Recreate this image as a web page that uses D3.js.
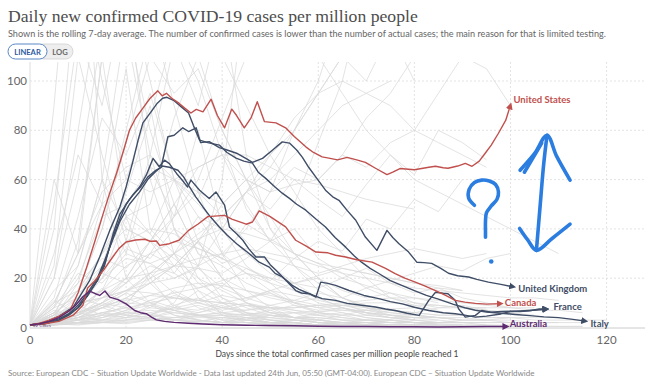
<!DOCTYPE html>
<html><head><meta charset="utf-8">
<script src="https://cdn.jsdelivr.net/npm/d3@7"></script>
<style>body{margin:0;background:#fff;} svg{display:block;font-family:Lato,"Noto Sans",sans-serif;}</style>
</head><body><svg id="c" width="650" height="383"></svg>
<script>
// ---------- data ----------
const xTicks = [0, 20, 40, 60, 80, 100, 120];
const yTicks = [0, 20, 40, 60, 80, 100];
const titleText = "Daily new confirmed COVID-19 cases per million people";
const subtitleText = "Shown is the rolling 7-day average. The number of confirmed cases is lower than the number of actual cases; the main reason for that is limited testing.";
const sourceText = "Source: European CDC – Situation Update Worldwide - Data last updated 24th Jun, 05:50 (GMT-04:00). European CDC – Situation Update Worldwide";
const xAxisTitle = "Days since the total confirmed cases per million people reached 1";
const buttonLabels = ["LINEAR", "LOG"];

const usData = [[0,1],[2,1.8],[4,3],[6,4.5],[8.3,6.9],[10,14],[11.8,24.5],[13.5,35],[15.2,46],[16.5,54],[18,62.5],[19.5,72],[20.7,80],[22,85],[23.5,89],[25,93],[26.6,96],[27.5,94],[28.4,95],[29.5,93],[31,91],[32.2,89],[33.5,87],[34.6,88.5],[36,87.5],[37.7,92.6],[39,86],[40.5,81],[42,88.6],[43,86],[44.6,81],[46,85],[47.3,91.6],[48.8,83.5],[51.2,83],[53.2,81],[55,77.5],[57.4,73.3],[59,71],[60.8,69.2],[62.2,68.7],[64,68],[66,69],[68,68],[69.8,67],[72,64.5],[74.3,62],[75.5,63],[77,64.5],[80,64],[83,65],[84.4,65.4],[86,64.8],[87,64.6],[89,65.5],[90.6,66.6],[92,65.4],[93.5,67.5],[94.7,70.6],[96,74],[97.5,78.8],[99,84],[100,90.2]];
const canadaData = [[0,1],[3,1.5],[6,2.5],[9,5],[11,9],[12,16],[13.5,19],[15.2,23],[17,28],[18.5,32],[20,34.7],[22,35.5],[23.9,35.8],[25,35],[26.3,35.1],[27,33.3],[29,34],[31,35.4],[33,39.4],[35,42],[37,45],[40.5,45.5],[42,44],[45,41.9],[46.3,42.8],[47.7,47.3],[50,45],[53.2,40.8],[55.3,35.4],[57.5,33],[59.5,30.6],[62,30.3],[63.6,29.3],[65.7,28.6],[68,27.5],[71.2,26.5],[74,24],[76,21.9],[78,20],[80.2,18.4],[82,17],[84.4,15],[86.5,13],[88.5,11],[90.5,10.3],[92.7,9.8],[95,9.5],[98,9.7]];
const ukData = [[0,1],[3,1.5],[6,3],[8,5],[10,8],[12,13],[14,19],[15.5,26],[17.3,37],[18.7,44],[20,50],[21.5,54],[23,57],[24.5,61],[26,63.5],[27.3,65],[28.7,77.4],[30,78],[31.8,81],[33,79.5],[34.6,81],[35.5,75],[37.3,75.4],[39.4,73],[41,72],[43,70.7],[45,68.5],[46.3,67],[48.4,68.6],[50.5,72],[52.5,75.3],[54,74.8],[55.5,72],[56.7,69],[58,65],[59.5,61],[61.5,55.7],[63,53],[64.3,51.6],[66,47.5],[67.8,43.5],[69.8,36.7],[72.2,31.3],[74.3,39.4],[75.5,36.5],[76.8,34],[78.8,30.6],[80.5,26.5],[82,26.3],[83.6,26],[85.5,24],[87.1,22],[89,21],[91.3,20.5],[93,19.5],[95.4,18.4],[98,17.5],[100.6,16.5]];
const italyData = [[0,1],[3,2],[6,4.5],[9,8.3],[10.5,13],[12.4,19],[14.5,28.6],[16.6,39.4],[18.7,48.9],[20,57],[21.5,68],[22.5,76],[23.5,83],[25,87],[26.5,91],[27.6,93],[28.5,93.4],[30,92],[31.5,89.5],[33,87],[34,82],[35.3,76],[37,75],[39.4,74],[41,71],[42.9,68.7],[44.5,67.5],[46.3,66.7],[47.5,63],[49,60.6],[51,57],[52.5,54.5],[54,52.4],[55.5,50],[57.4,47.6],[59.5,44],[61.5,40.8],[63.5,36.5],[65.7,32.6],[67.5,29],[69,26.5],[70.8,24],[72.6,21.9],[75,19],[77.5,17],[80,15],[82.5,13],[85,11.5],[88,9.5],[90.5,8],[92.7,7],[95,6.3],[98,5.8],[101,5.3],[104,4.8],[107,4.3],[110,4],[113,3.3],[115.6,2.6]];
const germanyData = [[0,1],[3,1.5],[6,3],[8,5],[10,8],[12,13],[14,19],[15.5,25],[17.3,38],[18.7,46],[20.7,52],[22.8,57],[24.2,61.8],[25.6,68.6],[26.9,65.2],[28,67.9],[29,66.5],[30.5,62.5],[32,59],[32.8,57],[33.5,59.8],[35.3,55.7],[37.3,52.3],[38.7,55],[40.5,49.6],[41.5,40.8],[43,38],[44.3,35.4],[45.5,32],[47,28.6],[48.8,28.6],[50,25.5],[51.2,23.2],[53.3,19.1],[55.3,15],[56.5,14],[58.1,13.7],[59.5,12.3],[60.5,18.4],[62,17.9],[63.6,17.1],[66.4,15],[69.5,13],[72.6,11.7],[75,10.5],[77.5,9.6],[80,8.2],[83,6.9],[86,6],[88.5,5.6],[90.5,5],[92.7,4.2],[95,4.6],[98,5.5],[100,6.5],[103,6.8],[105.5,7.1],[107.5,7.4]];
const franceData = [[0,1],[3,1.8],[6,3.5],[8,5.5],[10,9],[12,14],[14,20],[15.5,27],[17.3,36],[18.7,43],[20.7,50],[22.8,55],[24.5,60],[26,63],[27.5,65.5],[29,65],[30.8,63.8],[32,61],[33.2,57],[34.5,53],[36,48.9],[37.5,45],[39.4,40.8],[41,37.5],[43,34],[44.3,32],[45.6,30],[47.7,26.5],[49.8,24.5],[51,22],[52.6,20.4],[54.6,17.1],[56,15.5],[57.4,14.3],[59,13],[60.8,11.7],[63.6,11],[66,9.8],[69,9],[71.9,8.3],[74,7.5],[76,6.9],[78.5,5.8],[81,4.9],[83,11],[84.4,14.3],[86,13.9],[87,13.7],[88.5,11],[89.2,7.6],[90.6,4.2],[92.7,4.9],[94,6.9],[96,6.2],[98,6.5],[100,6.6],[102,6.5],[104,6.8],[106,7.5],[107.5,7.5]];
const australiaData = [[0,1],[2,1.5],[4,2.5],[6,4],[8,6.5],[9.5,9],[11,12.5],[12.4,14.8],[13.5,13.8],[14.5,13],[15.6,14.8],[16.6,12.3],[18.3,11.3],[20,9.6],[21.8,6.9],[23,6],[24.2,5.6],[25.3,4.2],[26.3,3.1],[28,2.5],[30,2.1],[33,1.7],[36,1.4],[40,1.1],[45,0.9],[50,0.8],[55,0.7],[60,0.5],[65,0.4],[70,0.4],[75,0.3],[80,0.3],[85,0.2],[90,0.3],[95,0.4],[99.2,0.4]];

const countryNames = ["Germany", "Italy", "France", "United Kingdom", "Canada", "United States", "Australia"];
const countrySeries = [germanyData, italyData, franceData, ukData, canadaData, usData, australiaData];
const countryLabels = ["", "Italy", "France", "United Kingdom", "Canada", "United States", "Australia"];

// background countries: values every 5 days starting at day 0
const greyStep = 5;
const greySeries = [
 [1,20,80,140,120,70,40,20,10,5,3,2,1,1,0.5,0.5,0.3,0.3,0.2,0.2],
 [1,8,35,110,160,130,90,55,30,15,8,4,2,1,1,0.5,0.5,0.5],
 [1,40,150,100,60,90,40,25,12,8,5,3,2,2,1,1,1],
 [1,5,15,40,75,110,95,105,80,60,45,30,20,12,8,6,5,4,3,3,2],
 [1,12,45,85,70,95,60,45,30,22,15,10,8,6,4,3,2,2],
 [1,3,10,25,55,85,120,100,70,50,35,25,18,12,9,7,5,4],
 [1,60,30,110,45,20,8,15,5,2,1,0.5,0.5,0.3],
 [1,4,18,50,30,65,45,80,40,25,18,10,6,4,3,2],
 [1,90,200,60,20,10,5,3,2,1,1,1],
 [1,30,70,50,105,40,30,18,12,6,3,2,1,1,1,1,0.5],
 [1,2,6,15,35,70,115,90,130,70,40,25,15,10,6,4,3],
 [1,15,25,60,40,35,50,30,25,18,14,10,8,9,7,5,4,3],
 [1,3,6,10,18,30,45,60,85,110,150,180,200,170,140,120,100],
 [1,8,12,15,10,20,30,25,40,55,70,80,95,110,100,120,130,140,150,160,170,180],
 [1,3,8,15,20,22,25,24,22,28,35,50,75,100,140,190,220,240],
 [1,3,6,10,15,22,30,38,45,55,60,70,80,90,95,100],
 [1,4,6,8,12,18,25,35,50,60,70,85,95,100,95,90,80,75,70,65],
 [1,5,10,12,20,35,45,55,50,60,55,65,60,70,65,75,80,95,110,105,90],
 [1,2,4,8,12,18,25,35,45,55,65,80,95,110,120,130],
 [1,10,30,50,60,55,60,65,70,60,55,58,60,70,85,95,110,130,150],
 [1,4,10,12,15,18,20,25,30,40,55,80,100,130,160,180,200],
 [1,6,14,20,28,26,30,45,40,55,48,60,52,45,58,70,62,80,75,68],
 [1,5,15,30,40,35,28,20,15,10,8,6,5,4,3,3,2,2,2,2],
 [1,3,8,15,25,30,35,32,28,22,18,15,12,10,8,7,6,5,5,4,4],
 [1,6,20,45,50,38,25,15,10,6,4,3,2,1,1,1,1,0.5],
 [1,2,5,10,15,20,25,28,30,32,30,28,25,22,20,18,16,15,14,13,12,12,11],
 [1,4,10,22,18,30,25,35,20,15,12,10,12,8,6,5,4],
 [1,5,15,30,45,50,85,110,80,60,40,30,20,12,8,5,3,2,2,1,1],
 [1,4,12,30,50,65,60,55,45,35,25,18,12,8,6,4,3,2,2,2,2,2],
 [1,20,60,120,140,100,60,35,20,10,6,4,3,2,2,1,1,2,3,3,4,4,4],
 [1,5,15,40,80,120,140,130,110,90,70,55,40,30,20,12,10,8,8,8,8,8],
 [1,10,30,55,65,70,60,50,40,30,28,25,22,25,28,30,32,30,28,30],
 [1,10,15,25,35,40,38,32,28,24,20,15,10,8,6,5,5,4,4,3,3,2,2],
 [1,2,4,8,14,22,30,36,40,38,35,30,26,24,22,20,18,16,15],
 [1,1,2,2,3,5,10,25,60,140,160,130,110,95,80,70,60,55,50,45,40,35,30],
 [1,2,5,10,20,35,50,65,70,70,65,60,58,55,52,50,48],
 [1,3,6,9,11,13,12,11,10,9,8,8,9,10,11,12,12,11,10,9,8,7,7,6],
 [1,8,22,18,30,26,20,24,16,12,14,9,7,8,5,4,3,3,2],
 [1,3,9,20,32,28,40,34,26,30,22,18,20,15,12,14,10,9,8,7,6,5],
 [1,1.5,2,3,4,3.5,3,2.5,2,2,1.5,1.5,1,1,1,0.8,0.8,0.7,0.6,0.5,0.5,0.5,0.4,0.4],
 [1,2,3,5,6,7,6,5,5,4,4,3,3,2,2,2,2,1,1,1],
 [1,1.2,1.5,2,2.5,3,4,5,6,7,8,8,9,9,10,10,9,9,8,8],
 [1,3,5,8,10,9,7,5,4,3,2,2,1,1,1,0.5,0.5,0.5,0.5,0.5,0.5,0.5],
 [1,1.5,2,2.5,3,3.5,4,4.5,5,5.5,6,6,6.5,7,7,7.5,8],
 [1,2,4,6,8,10,12,11,10,9,8,7,6,5,5,4,4,4,3,3],
 [1,2,2,3,3,4,3,3,2,2,2,1,1,1,1,1,1,1],
 [1,4,8,12,15,14,12,10,8,6,5,4,4,3,3,3,2,2,2,2,2,2,2,2],
 [1,1,1.5,2,2,3,3,4,4,5,5,4,4,3,3,3,3],
 [1,5,6,4,7,9,5,3,2,4,3,2,1,1,2,1,1],
 [1,2,6,10,8,5,3,2,1,1,0.5,0.5,0.5,0.5,0.3,0.3,0.3,0.3,0.2,0.2,0.2],
 [1,3,4,6,5,8,7,9,6,5,7,4,3,5,3,2,2,1.5,1],
 [1,1.5,3,5,9,13,16,18,17,15,13,11,9,7,6,5,4,4,3],
 [1,2.5,4,3,5,4,6,5,3,4,2,3,2,1.5,1,1,1,0.8,0.8,0.6,0.6,0.5,0.5,0.5],
 [1,6,12,9,14,10,7,5,6,4,3,3,2,2,1],
 [1,1,2,4,7,11,14,16,19,22,20,18,21,24,22,20,18,17,15],
 [1,2,3,2,4,6,8,7,10,12,15,13,11,9,8,7,6,5,5,4,4,3,3,3,3],
 [1,3,2,5,4,6,3,5,2,3,2,2,1,1,1,1,1,1,1,1,0.5,0.5],
 [1,7,4,9,6,11,8,6,9,5,4,6,3,2,3,2,2,1],
 [1,2,9,5,12,8,15,10,7,9,6,4,5,3,2,2,1,1,1],
 [1,4,3,6,8,5,9,12,8,10,7,9,6,8,5,7,6,8,9,7,6],
 [1,2,4,3,6,5,8,10,13,11,15,18,16,20,17,14,12,10],
 [1,11,5,16,9,22,14,8,5,3,2,2,1,1,1,1],
 [1,1.5,1,2,1.5,3,2,2.5,4,3,5,4,6,5,7,6,5,4],
 [1,25,110,70,35,18,9,5,3,2,1,1,0.5,0.5],
 [1,50,120,90,140,60,30,12,6,3,2,1,1],
 [1,5,25,60,125,80,50,30,20,10,6,4,3,2,2,1],
 [1,2,8,20,45,38,60,52,75,48,35,40,28,22,16,12,9,7],
 [1,3,5,12,18,25,22,35,28,42,36,30,26,20,24,18,14,16,12,10,8],
 [1,6,3,8,5,4,7,3,2,4,2,1,1,2,1,1],
 [1,2,3,4,6,5,4,6,8,7,9,11,14,12,16,19,22,25,23,28,30],
 [1,9,18,28,24,35,22,16,18,12,9,7,5,6,4,3,2,2,2],
 [1,1,3,6,4,9,13,11,17,24,19,28,35,31,44,40,52,47,60]
];

// hand-drawn annotation strokes, in data units (day, value)
const annotQuestion = [[92.5,49.6],[91.3,52.5],[91.4,56],[92.5,58.8],[94,59.8],[95.6,59.4],[96.9,58],[97.5,55],[97.2,52],[96,49.3],[95,46.5],[94.8,43],[94.8,39],[94.8,36.6]];
const annotDot = [96, 26.8];
const annotShaft = [[107.6,78],[106.9,66],[106.2,50],[105.4,31.3]];
const annotTopHead = [[102,63.8],[105,70.5],[107.6,78],[109.6,69.5],[112.4,59.8]];
const annotTopHead2 = [[102.9,63],[106.5,74.8]];
const annotBottomHead = [[101.9,40.2],[103.6,35.5],[105.4,31.3],[108.6,36],[112.4,41.9]];

// ---------- styles ----------
const colorOf = {"United States":"#c0504d","Canada":"#c0504d","United Kingdom":"#3f4d66","France":"#3f4d66","Italy":"#3f4d66","Germany":"#3f4d66","Australia":"#5e2a70"};
const labelOffset = {"United States":[3,-6],"Canada":[4,-1],"United Kingdom":[5,2],"France":[7,-3],"Italy":[5,2],"Australia":[3,-3]};

const svg = d3.select("#c");
const x = d3.scaleLinear().domain([0, 128]).range([30, 645]);
const y = d3.scaleLinear().domain([0, 100]).range([327.5, 81]);
const plotTop = 62;

function fit(sel, target) {
  const w = sel.node().getComputedTextLength();
  const fs = parseFloat(sel.attr("font-size"));
  sel.attr("font-size", (fs * target / w).toFixed(2));
}

// title block
fit(svg.append("text").attr("x", 8).attr("y", 22).attr("font-family", "'Liberation Serif','DejaVu Serif',serif")
  .attr("font-size", 20).attr("fill", "#4d4d4d").text(titleText), 410);
fit(svg.append("text").attr("x", 8).attr("y", 37).attr("font-size", 10.5).attr("fill", "#666").text(subtitleText), 598);

// buttons
const btn = svg.append("g");
btn.append("rect").attr("x", 36).attr("y", 44).attr("width", 37).attr("height", 15).attr("rx", 7.5)
  .attr("fill", "#eeeeee").attr("stroke", "#cfcfcf").attr("stroke-width", 0.8);
btn.append("rect").attr("x", 8).attr("y", 44).attr("width", 39).attr("height", 15).attr("rx", 7.5)
  .attr("fill", "#fff").attr("stroke", "#5a87c5").attr("stroke-width", 1);
btn.append("text").attr("x", 27.5).attr("y", 54.5).attr("text-anchor", "middle").attr("font-size", 7.6)
  .attr("font-weight", 700).attr("fill", "#2f5a9e").text(buttonLabels[0]);
btn.append("text").attr("x", 60).attr("y", 54.5).attr("text-anchor", "middle").attr("font-size", 7.6)
  .attr("font-weight", 700).attr("fill", "#666").text(buttonLabels[1]);

// grid
const grid = svg.append("g");
grid.selectAll(".hg").data(yTicks.filter(d => d > 0)).join("line")
  .attr("x1", 30).attr("x2", 645).attr("y1", d => y(d)).attr("y2", d => y(d))
  .attr("stroke", "#dcdcdc").attr("stroke-dasharray", "2,2").attr("stroke-width", 0.8);
grid.selectAll(".vg").data(xTicks.filter(d => d > 0)).join("line")
  .attr("y1", plotTop).attr("y2", 327.5).attr("x1", d => x(d)).attr("x2", d => x(d))
  .attr("stroke", "#dcdcdc").attr("stroke-dasharray", "2,2").attr("stroke-width", 0.8);
svg.append("line").attr("x1", 30).attr("x2", 645).attr("y1", 328).attr("y2", 328).attr("stroke", "#ccc");
svg.append("line").attr("x1", 30).attr("x2", 30).attr("y1", plotTop).attr("y2", 328).attr("stroke", "#ddd");

// tick labels
svg.append("g").selectAll("text").data(yTicks).join("text")
  .attr("x", 27).attr("y", d => y(d) + 4).attr("text-anchor", "end").attr("font-size", 11.5).attr("fill", "#666").text(d => d);
svg.append("g").selectAll("text").data(xTicks).join("text")
  .attr("x", d => x(d)).attr("y", 344).attr("text-anchor", "middle").attr("font-size", 11.5).attr("fill", "#666").text(d => d);
svg.append("text").attr("x", 337).attr("y", 357).attr("text-anchor", "middle").attr("font-size", 8.5).attr("fill", "#444").text(xAxisTitle);
fit(svg.append("text").attr("x", 8).attr("y", 376).attr("font-size", 8.5).attr("fill", "#888").text(sourceText), 527);

// lines
svg.append("clipPath").attr("id", "clip").append("rect").attr("x", 29).attr("y", plotTop).attr("width", 620).attr("height", 328 - plotTop + 8);
const plot = svg.append("g").attr("clip-path", "url(#clip)");
const line = d3.line().x(d => x(d[0])).y(d => y(d[1]));

plot.append("g").selectAll("path").data(greySeries).join("path")
  .attr("d", s => line(s.map((v, i) => [i * greyStep, v])))
  .attr("fill", "none").attr("stroke", "#dadada").attr("stroke-width", 0.75);

const defs = svg.append("defs");
const uniqColors = Array.from(new Set(Object.values(colorOf)));
uniqColors.forEach((c, i) => {
  defs.append("marker").attr("id", "arr" + i).attr("viewBox", "0 0 10 10").attr("refX", 6).attr("refY", 5)
    .attr("markerWidth", 7).attr("markerHeight", 7).attr("markerUnits", "userSpaceOnUse").attr("orient", "auto")
    .append("path").attr("d", "M0,0L10,5L0,10z").attr("fill", c);
});

countrySeries.forEach((s, i) => {
  const name = countryNames[i];
  const c = colorOf[name];
  plot.append("path").attr("d", line(s)).attr("fill", "none").attr("stroke", c).attr("stroke-width", 1.4)
    .attr("stroke-linejoin", "round").attr("marker-end", "url(#arr" + uniqColors.indexOf(c) + ")");
});

countrySeries.forEach((s, i) => {
  const lab = countryLabels[i];
  if (!lab) return;
  const end = s[s.length - 1];
  const off = labelOffset[lab];
  svg.append("text").attr("x", x(end[0]) + off[0]).attr("y", y(end[1]) + off[1] + 3.5)
    .attr("font-size", 9.5).attr("font-weight", 700).attr("fill", colorOf[lab]).text(lab);
});

svg.append("text").attr("x", x(0) + 3).attr("y", y(0) - 1).attr("font-size", 4.5).attr("fill", "#6a3d7a").text("22 Cases");

// annotation
const ann = svg.append("g").attr("fill", "none").attr("stroke", "#2b7de0").attr("stroke-width", 3.6)
  .attr("stroke-linecap", "round").attr("stroke-linejoin", "round");
const curve = d3.line().x(d => x(d[0])).y(d => y(d[1])).curve(d3.curveCatmullRom);
[annotQuestion, annotShaft, annotTopHead, annotTopHead2, annotBottomHead].forEach(p => ann.append("path").attr("d", curve(p)));
svg.append("circle").attr("cx", x(annotDot[0])).attr("cy", y(annotDot[1])).attr("r", 2.3).attr("fill", "#2b7de0");
</script></body></html>
